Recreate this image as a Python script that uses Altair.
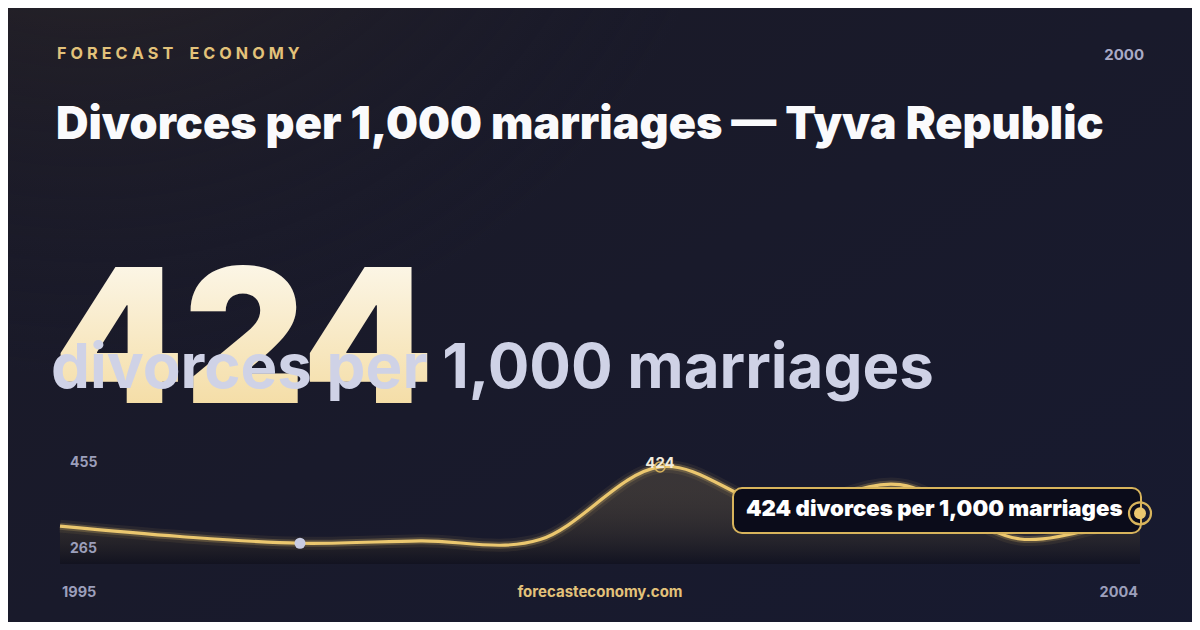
import altair as alt
import pandas as pd

# ---------------- data ----------------
years = [1995, 1996, 1997, 1998, 1999, 2000, 2001, 2002, 2003, 2004]
values = [327, 310, 299, 303, 305, 424, 357, 395, 306, 348]

brand_letters = "FORECAST ECONOMY"
title = "Divorces per 1,000 marriages \u2014 Tyva Republic"
headline_value = "424"
headline_unit = "divorces per 1,000 marriages"
headline_year = "2000"
axis_labels = ["455", "265"]
year_labels = ["1995", "2004"]
site = "forecasteconomy.com"
tooltip_text = "424 divorces per 1,000 marriages"
y_domain = [265, 455]
x_domain = [1995, 2004]

# ---------------- layout ----------------
W, H = 1184, 614
OX, OY = 8, 8
GOLD = "#ebc76f"
FONT = "Inter"
brand = "\u2005".join(brand_letters.replace(" ", "\u2002"))

df = pd.DataFrame({"year": years, "value": values})
one = pd.DataFrame({"k": [0]})

xs = alt.Scale(domain=x_domain, range=[60 - OX, 1140 - OX], nice=False, zero=False)
ys = alt.Scale(domain=y_domain, range=[564 - OY, 448 - OY], nice=False, zero=False)
X = alt.X("year:Q", scale=xs, axis=None)
Y = alt.Y("value:Q", scale=ys, axis=None)


def txt(s, x, y, size, color, weight=700, align="left", baseline="alphabetic", **kw):
    return alt.Chart(one).mark_text(
        text=s, fontSize=size, fill=color, fontWeight=weight, align=align,
        baseline=baseline, font=FONT, **kw
    ).encode(x=alt.value(x - OX), y=alt.value(y - OY))


def box(x1, y1, x2, y2, **kw):
    return alt.Chart(one).mark_rect(**kw).encode(
        x=alt.value(x1 - OX), x2=alt.value(x2 - OX),
        y=alt.value(y1 - OY), y2=alt.value(y2 - OY))


bg = box(-10, -10, 1210, 640, fill=alt.LinearGradient(
    gradient="linear", x1=0, y1=0, x2=1, y2=1,
    stops=[alt.GradientStop(color="#1b1a26", offset=0),
           alt.GradientStop(color="#171a30", offset=1)]))
glow = box(-10, -10, 1210, 640, fill=alt.RadialGradient(
    gradient="radial", x1=0.08, y1=0.0, r1=0, x2=0.08, y2=0.0, r2=0.55,
    stops=[alt.GradientStop(color="rgba(74,62,44,0.8)", offset=0),
           alt.GradientStop(color="rgba(42,37,40,0.4)", offset=0.5),
           alt.GradientStop(color="rgba(23,25,45,0)", offset=1)]))

base = alt.Chart(df)
area = base.mark_area(interpolate="cardinal", fill=alt.LinearGradient(
    gradient="linear", x1=0, y1=0, x2=0, y2=1,
    stops=[alt.GradientStop(color="rgba(236,200,112,0.15)", offset=0),
           alt.GradientStop(color="rgba(8,8,16,0.4)", offset=1)])).encode(
    x=X, y=Y, y2=alt.datum(265))
glow1 = base.mark_line(interpolate="cardinal", color=GOLD, strokeWidth=13, opacity=0.07).encode(x=X, y=Y)
glow2 = base.mark_line(interpolate="cardinal", color=GOLD, strokeWidth=7, opacity=0.22).encode(x=X, y=Y)
line = base.mark_line(interpolate="cardinal", color=GOLD, strokeWidth=3.2).encode(x=X, y=Y)

low_dot = base.transform_filter(alt.datum.year == 1997).mark_circle(
    size=121, color="#c9cce2", opacity=1).encode(x=X, y=Y)
peak_ring = base.transform_filter(alt.datum.year == 2000).mark_point(
    shape="circle", filled=False, size=100, strokeWidth=1.5, color="#d9b45c", opacity=1).encode(x=X, y=Y)
peak_label = base.transform_filter(alt.datum.year == 2000).mark_text(
    font=FONT, fontSize=15, fontWeight=700, fill="#f2ecdc", baseline="alphabetic", dy=1).encode(
    x=X, y=Y, text="value:Q")

tip_box = box(733, 488, 1141, 533, fill="#0b0c1a", stroke="#d8b45c", strokeWidth=2, cornerRadius=9)
tip_text = txt(tooltip_text, 746, 516, 22.2, "#ffffff", weight=900)
end_ring = base.transform_filter(alt.datum.year == 2004).mark_point(
    shape="circle", filled=False, size=484, strokeWidth=2.2, color="#d8b45c", opacity=1).encode(x=X, y=Y)
end_dot = base.transform_filter(alt.datum.year == 2004).mark_circle(
    size=144, color=GOLD, opacity=1).encode(x=X, y=Y)

num_grad = alt.LinearGradient(
    gradient="linear", x1=0, y1=0, x2=0, y2=1,
    stops=[alt.GradientStop(color="#fefdf9", offset=0),
           alt.GradientStop(color="#f2d693", offset=1)])
num = txt(headline_value, 53, 403, 187, num_grad, weight=900)
unit = txt(headline_unit, 51, 388, 61.8, "#cfd2e6", weight=700)

layers = [
    bg, glow,
    txt(brand, 57, 59, 16.2, "#e3c27a", weight=700),
    txt(headline_year, 1144, 60, 15, "#a9abc6", weight=700, align="right"),
    txt(title, 56, 139, 45, "#fafafc", weight=900),
    num, unit,
    area, glow1, glow2, line, low_dot, peak_ring, peak_label,
    txt(axis_labels[0], 70, 467, 14, "#9c9fbb", weight=700),
    txt(axis_labels[1], 70, 553, 14, "#9c9fbb", weight=700),
    tip_box, tip_text, end_ring, end_dot,
    txt(year_labels[0], 62, 597, 14.5, "#9c9fbb", weight=700),
    txt(year_labels[1], 1138, 597, 14.5, "#9c9fbb", weight=700, align="right"),
    txt(site, 600, 597, 15, "#e3c27a", weight=700, align="center"),
]

chart = alt.layer(*layers).properties(
    width=W, height=H, autosize=alt.AutoSizeParams(type="none"), padding=0
).configure_view(stroke=None).configure(background="#171829")

chart.save("out.html", embed_options={"renderer": "svg", "actions": False})
